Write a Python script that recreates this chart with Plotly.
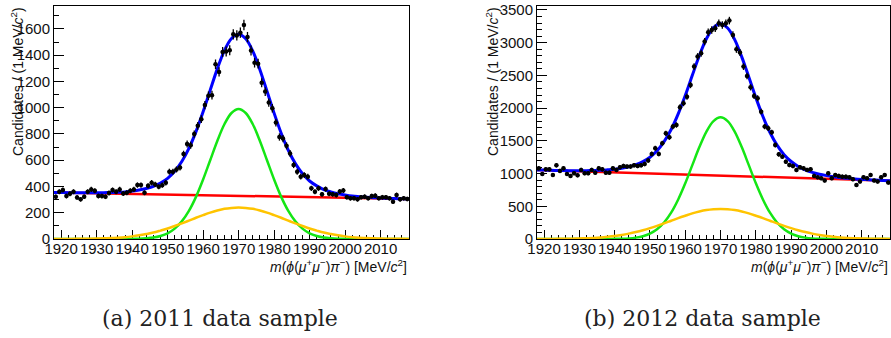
import numpy as np
import plotly.graph_objects as go

W, H = 891, 338

# ---------------- data ----------------
bin_centres = np.arange(1918.5, 2018.0, 1.0)      # 1 MeV bins
curve_mass = list(range(1918, 2019, 2))           # sampling of fit curves
bkg_mass = [1918, 2018]
x_tick_vals = [1920, 1930, 1940, 1950, 1960, 1970, 1980, 1990, 2000, 2010]

counts_2011 = [322, 360, 373, 327, 345, 360, 317, 302, 322, 360,
               378, 368, 327, 327, 322, 350, 373, 360, 378, 347,
               352, 368, 378, 411, 411, 352, 405, 429, 416, 398,
               410, 429, 513, 513, 530, 545, 647, 723, 714, 799,
               862, 913, 1020, 1091, 1096, 1331, 1273, 1425, 1428, 1438,
               1559, 1551, 1572, 1630, 1538, 1436, 1343, 1336, 1191, 1123,
               1039, 996, 887, 777, 765, 710, 652, 564, 513, 475,
               487, 475, 386, 360, 386, 340, 380, 345, 340, 335,
               361, 369, 318, 310, 310, 302, 318, 322, 310, 327,
               330, 310, 318, 318, 310, 284, 335, 302, 310, 305]

counts_2012 = [1080, 994, 1065, 1065, 978, 1126, 1040, 1080, 994, 964,
               1004, 973, 1055, 1004, 1004, 1055, 1014, 1080, 1065, 1014,
               1014, 1080, 1055, 1096, 1116, 1106, 1106, 1126, 1116, 1126,
               1147, 1200, 1299, 1386, 1299, 1462, 1615, 1554, 1717, 1742,
               2013, 2074, 2175, 2353, 2634, 2787, 2838, 3016, 3159, 3194,
               3220, 3296, 3270, 3296, 3337, 3118, 2898, 2848, 2634, 2491,
               2318, 2185, 2150, 1946, 1717, 1692, 1630, 1437, 1294, 1258,
               1182, 1131, 1116, 1055, 1096, 1080, 1055, 1065, 964, 943,
               928, 892, 1004, 928, 978, 964, 953, 953, 943, 913,
               826, 877, 943, 928, 978, 892, 877, 943, 978, 862]

total_2011 = [355, 354, 353, 353, 352, 352, 352, 353, 354, 356, 359, 365, 373, 385,
              401, 427, 462, 516, 590, 690, 818, 969, 1134, 1296, 1435, 1527, 1559,
              1525, 1431, 1290, 1126, 959, 806, 676, 574, 498, 442, 405, 377, 359,
              345, 335, 327, 322, 318, 315, 312, 310, 308, 307, 305]
narrow_2011 = [0, 0, 0, 0, 0, 0, 0, 0, 0, 0, 0, 1, 2, 5, 11, 23, 43, 79, 134, 214,
               321, 453, 600, 747, 874, 960, 990, 960, 874, 747, 600, 453, 321, 214,
               134, 79, 43, 23, 11, 5, 2, 1, 0, 0, 0, 0, 0, 0, 0, 0, 0]
wide_2011 = [0, 0, 0, 1, 1, 2, 3, 5, 7, 10, 14, 20, 28, 38, 49, 64, 80, 99, 119, 140,
             162, 182, 201, 217, 230, 237, 240, 237, 230, 217, 201, 182, 162, 140,
             119, 99, 80, 64, 49, 38, 28, 20, 14, 10, 7, 5, 3, 2, 1, 1, 0]
bkg_2011 = [355, 305]

total_2012 = [1055, 1053, 1049, 1047, 1045, 1044, 1043, 1044, 1046, 1049, 1057, 1067,
              1081, 1103, 1136, 1182, 1250, 1348, 1487, 1673, 1912, 2193, 2501, 2803,
              3059, 3229, 3289, 3223, 3046, 2783, 2475, 2160, 1872, 1627, 1434, 1288,
              1184, 1109, 1057, 1017, 989, 968, 951, 937, 927, 918, 911, 905, 900, 895, 891]
narrow_2012 = [0, 0, 0, 0, 0, 0, 0, 0, 0, 0, 1, 2, 4, 9, 21, 42, 82, 148, 252, 402,
               604, 851, 1128, 1404, 1641, 1802, 1860, 1802, 1641, 1404, 1128, 851,
               604, 402, 252, 148, 82, 42, 21, 9, 4, 2, 1, 0, 0, 0, 0, 0, 0, 0, 0]
wide_2012 = [0, 1, 1, 2, 3, 5, 8, 12, 17, 24, 34, 46, 62, 82, 106, 134, 166, 201, 239,
             279, 319, 356, 391, 420, 442, 455, 460, 455, 442, 420, 391, 356, 319, 279,
             239, 201, 166, 134, 106, 82, 62, 46, 34, 24, 17, 12, 8, 5, 3, 2, 1]
bkg_2012 = [1055, 890]

# ---------------- styling ----------------
C_TOTAL = "#0000ff"
C_BKG = "#ff0000"
C_NARROW = "#14e614"
C_WIDE = "#ffc400"

fig = go.Figure()


def add_panel(xa, ya, counts, total, narrow, wide, bkg):
    common = dict(xaxis=xa, yaxis=ya, showlegend=False, hoverinfo="skip")
    fig.add_trace(go.Scatter(x=bkg_mass, y=bkg, mode="lines",
                             line=dict(color=C_BKG, width=2.5), **common))
    fig.add_trace(go.Scatter(x=curve_mass, y=narrow, mode="lines",
                             line=dict(color=C_NARROW, width=2.5, shape="spline"), **common))
    fig.add_trace(go.Scatter(x=curve_mass, y=wide, mode="lines",
                             line=dict(color=C_WIDE, width=2.5, shape="spline"), **common))
    fig.add_trace(go.Scatter(x=curve_mass, y=total, mode="lines",
                             line=dict(color=C_TOTAL, width=3, shape="spline"), **common))
    fig.add_trace(go.Scatter(
        x=bin_centres, y=counts, mode="markers",
        marker=dict(color="black", size=4.5),
        error_y=dict(type="data", array=np.sqrt(np.array(counts, dtype=float)),
                     color="black", thickness=1.3, width=0),
        error_x=dict(type="constant", value=0.5, color="black", thickness=1.3, width=0),
        **common))


add_panel("x", "y", counts_2011, total_2011, narrow_2011, wide_2011, bkg_2011)
add_panel("x2", "y2", counts_2012, total_2012, narrow_2012, wide_2012, bkg_2012)

tickfont = dict(family="Liberation Sans", size=15, color="#111")

y_bot = 1 - 239 / H
y_top = 1 - 6 / H


def xaxis_cfg(x0, x1, anchor):
    return dict(domain=[x0 / W, x1 / W], range=[1918, 2018], anchor=anchor,
                tickmode="array", tickvals=x_tick_vals, ticks="inside", ticklen=9,
                tickwidth=1, tickcolor="black", ticklabelstandoff=-4, tickangle=0,
                minor=dict(dtick=2, ticks="inside", ticklen=4.5, tickcolor="black", tickwidth=1),
                showline=True, linecolor="black", linewidth=1, mirror=True,
                showgrid=False, zeroline=False, tickfont=tickfont,
                layer="below traces", automargin=False, fixedrange=True)


def yaxis_cfg(ymax, dtick, mdtick, anchor):
    return dict(domain=[y_bot, y_top], range=[0, ymax], anchor=anchor,
                dtick=dtick, tick0=0, ticks="inside", ticklen=10, tickwidth=1,
                tickcolor="black", tickangle=0,
                minor=dict(dtick=mdtick, ticks="inside", ticklen=5, tickcolor="black", tickwidth=1),
                showline=True, linecolor="black", linewidth=1, mirror=True,
                showgrid=False, zeroline=False, tickfont=tickfont,
                layer="below traces", automargin=False, fixedrange=True)


fig.update_layout(
    width=W, height=H, margin=dict(l=0, r=0, t=0, b=0),
    paper_bgcolor="white", plot_bgcolor="white",
    xaxis=xaxis_cfg(54, 409, "y"),
    yaxis=yaxis_cfg(1775, 200, 100, "x"),
    xaxis2=xaxis_cfg(537, 890, "y2"),
    yaxis2=yaxis_cfg(3560, 500, 100, "x2"),
)

ytitle = "Candidates / (1 MeV/<i>c</i><sup>2</sup>)"
xtitle = ("<i>m</i>(<i>ϕ</i>(<i>μ</i><sup>+</sup><i>μ</i><sup>−</sup>)<i>π</i><sup>−</sup>)"
          " [MeV/<i>c</i><sup>2</sup>]")
lab_font = dict(family="Liberation Sans", size=14, color="#111")
cap_font = dict(family="DejaVu Serif", size=22, color="#222")

annotations = [
    dict(text=ytitle, x=17 / W, y=1 - 82 / H, textangle=-90, font=lab_font),
    dict(text=ytitle, x=492 / W, y=1 - 82 / H, textangle=-90, font=lab_font),
    dict(text=xtitle, x=409 / W, y=1 - 266 / H, xanchor="right", font=lab_font),
    dict(text=xtitle, x=890 / W, y=1 - 266 / H, xanchor="right", font=lab_font),
    dict(text="(a) 2011 data sample", x=220 / W, y=1 - 318 / H, font=cap_font),
    dict(text="(b) 2012 data sample", x=702 / W, y=1 - 318 / H, font=cap_font),
]
for a in annotations:
    a.update(xref="paper", yref="paper", showarrow=False)
    a.setdefault("xanchor", "center")
    a.setdefault("yanchor", "middle")
fig.update_layout(annotations=annotations)

fig.write_html("out.html")
